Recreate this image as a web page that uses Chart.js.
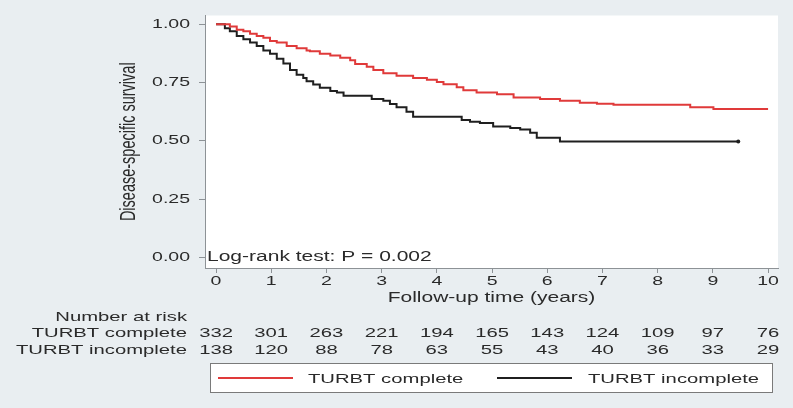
<!DOCTYPE html>
<html>
<head>
<meta charset="utf-8">
<script src="https://cdn.jsdelivr.net/npm/chart.js@4/dist/chart.umd.min.js"></script>
<style>
  html, body { margin: 0; padding: 0; background: #e9eef1; }
  #wrap { width: 793px; height: 408px; }
  canvas { display: block; }
</style>
</head>
<body>
<div id="wrap"><canvas id="c" width="793" height="408"></canvas></div>
<script>
// ---- data ----
const completeTime = [0, 0.25, 0.375, 0.495, 0.616, 0.737, 0.857, 0.978, 1.10, 1.28, 1.46, 1.64, 1.70, 1.88, 2.07, 2.25, 2.43, 2.52, 2.73, 2.85, 3.03, 3.27, 3.57, 3.82, 4.00, 4.12, 4.36, 4.48, 4.72, 5.09, 5.39, 5.87, 6.23, 6.59, 6.90, 7.20, 8.59, 9.01, 10.0];
const completeSurv = [1.000, 0.990, 0.976, 0.970, 0.959, 0.949, 0.942, 0.928, 0.921, 0.907, 0.897, 0.887, 0.884, 0.873, 0.866, 0.856, 0.845, 0.829, 0.817, 0.804, 0.790, 0.779, 0.769, 0.762, 0.752, 0.742, 0.730, 0.717, 0.707, 0.700, 0.686, 0.679, 0.672, 0.663, 0.659, 0.654, 0.644, 0.636, 0.636];

const incompleteTime = [0, 0.16, 0.25, 0.375, 0.495, 0.616, 0.737, 0.857, 0.978, 1.10, 1.22, 1.34, 1.46, 1.58, 1.64, 1.76, 1.88, 2.07, 2.19, 2.31, 2.82, 3.03, 3.15, 3.27, 3.45, 3.57, 4.45, 4.60, 4.78, 5.02, 5.33, 5.51, 5.69, 5.81, 6.23, 9.46];
const incompleteSurv = [1.000, 0.983, 0.970, 0.949, 0.935, 0.921, 0.907, 0.887, 0.873, 0.852, 0.831, 0.804, 0.783, 0.769, 0.755, 0.741, 0.727, 0.714, 0.707, 0.693, 0.679, 0.672, 0.658, 0.644, 0.624, 0.603, 0.589, 0.582, 0.576, 0.561, 0.555, 0.548, 0.534, 0.513, 0.497, 0.497];

const seriesNames = ['TURBT complete', 'TURBT incomplete'];

const xTickValues = [0, 1, 2, 3, 4, 5, 6, 7, 8, 9, 10];
const xTickLabels = ['0', '1', '2', '3', '4', '5', '6', '7', '8', '9', '10'];
const yTickValues = [0, 0.25, 0.5, 0.75, 1];
const yTickLabels = ['0.00', '0.25', '0.50', '0.75', '1.00'];

const riskTimes = [0, 1, 2, 3, 4, 5, 6, 7, 8, 9, 10];
const riskComplete = [332, 301, 263, 221, 194, 165, 143, 124, 109, 97, 76];
const riskIncomplete = [138, 120, 88, 78, 63, 55, 43, 40, 36, 33, 29];

const riskHeader = 'Number at risk';
const xTitle = 'Follow-up time (years)';
const yTitle = 'Disease-specific survival';
const noteText = 'Log-rank test: P = 0.002';

// ---- styling ----
const RED = '#e03a3a';
const BLACK = '#1f1f1f';
const AXIS = '#8d9296';
const TEXT = '#2a2a2a';
const FONT = '"Liberation Sans", Arial, Helvetica, sans-serif';

// The reference picture is stretched horizontally: widen glyphs in device x.
const SX = 1.5;
(function () {
  const P = CanvasRenderingContext2D.prototype;
  const origFill = P.fillText;
  const origMeasure = P.measureText;
  P.fillText = function (t, x, y, maxW) {
    const m = this.getTransform();
    const px = m.a * x + m.c * y + m.e;
    const py = m.b * x + m.d * y + m.f;
    const T = new DOMMatrix().translate(px, py).scale(SX, 1).translate(-px, -py).multiply(m);
    this.save();
    this.setTransform(T);
    if (maxW === undefined) origFill.call(this, t, x, y);
    else origFill.call(this, t, x, y, maxW);
    this.restore();
  };
  P.measureText = function (t) {
    const r = origMeasure.call(this, t);
    const m = this.getTransform();
    const k = (m.b === 0 && m.c === 0) ? SX : 1;
    return {
      width: r.width * k,
      actualBoundingBoxAscent: r.actualBoundingBoxAscent,
      actualBoundingBoxDescent: r.actualBoundingBoxDescent,
      actualBoundingBoxLeft: r.actualBoundingBoxLeft * k,
      actualBoundingBoxRight: r.actualBoundingBoxRight * k
    };
  };
})();

const decor = {
  id: 'decor',
  beforeDraw(chart) {
    const { ctx, chartArea: a } = chart;
    ctx.save();
    ctx.fillStyle = '#e9eef1';
    ctx.fillRect(0, 0, chart.width, chart.height);
    ctx.fillStyle = '#ffffff';
    ctx.fillRect(a.left, a.top, a.right - a.left, a.bottom - a.top);
    ctx.restore();
  },
  afterDraw(chart) {
    const { ctx, chartArea: a } = chart;
    const xs = chart.scales.x;
    ctx.save();
    ctx.fillStyle = TEXT;
    // note inside plot
    ctx.font = '14px ' + FONT;
    ctx.textAlign = 'left';
    ctx.textBaseline = 'alphabetic';
    ctx.fillText(noteText, a.left + 2, 261);

    // number-at-risk table
    ctx.font = '13.5px ' + FONT;
    ctx.textAlign = 'right';
    ctx.fillText(riskHeader, 187, 320.7);
    ctx.fillText(seriesNames[0], 187, 337);
    ctx.fillText(seriesNames[1], 187, 354);
    ctx.textAlign = 'center';
    riskTimes.forEach((t, i) => {
      const px = xs.getPixelForValue(t);
      ctx.fillText(String(riskComplete[i]), px, 337);
      ctx.fillText(String(riskIncomplete[i]), px, 354);
    });

    // legend box
    ctx.fillStyle = '#ffffff';
    ctx.fillRect(210, 363, 562, 29);
    ctx.strokeStyle = '#7a7a7a';
    ctx.lineWidth = 1;
    ctx.strokeRect(210.5, 363.5, 562, 29);
    ctx.lineWidth = 2;
    ctx.strokeStyle = RED;
    ctx.beginPath(); ctx.moveTo(218, 378); ctx.lineTo(293, 378); ctx.stroke();
    ctx.strokeStyle = BLACK;
    ctx.beginPath(); ctx.moveTo(497, 378); ctx.lineTo(572, 378); ctx.stroke();
    ctx.fillStyle = TEXT;
    ctx.textAlign = 'left';
    ctx.font = '13.5px ' + FONT;
    ctx.fillText(seriesNames[0], 308, 382.7);
    ctx.fillText(seriesNames[1], 588, 382.7);
    ctx.restore();
  }
};

const lastIdx = incompleteTime.length - 1;

new Chart(document.getElementById('c'), {
  type: 'line',
  data: {
    datasets: [
      {
        label: seriesNames[0],
        data: completeTime.map((t, i) => ({ x: t, y: completeSurv[i] })),
        borderColor: RED,
        borderWidth: 2,
        stepped: 'before',
        pointRadius: 0,
        fill: false
      },
      {
        label: seriesNames[1],
        data: incompleteTime.map((t, i) => ({ x: t, y: incompleteSurv[i] })),
        borderColor: BLACK,
        backgroundColor: BLACK,
        borderWidth: 2,
        stepped: 'before',
        pointRadius: (c) => (c.dataIndex === lastIdx ? 2 : 0),
        pointBorderWidth: 0,
        pointBackgroundColor: BLACK,
        fill: false
      }
    ]
  },
  options: {
    responsive: false,
    animation: false,
    events: [],
    layout: { padding: { left: 0, right: 15, top: 7, bottom: 101.6 } },
    plugins: { legend: { display: false }, tooltip: { enabled: false } },
    scales: {
      x: {
        type: 'linear',
        min: -0.2,
        max: 10.18,
        afterBuildTicks: (s) => { s.ticks = xTickValues.map(v => ({ value: v })); },
        afterFit: (s) => { s.height = 38.4; },
        ticks: {
          callback: (v, i) => xTickLabels[i],
          color: TEXT,
          font: { family: FONT, size: 13, lineHeight: 1 },
          padding: 2,
          maxRotation: 0,
          autoSkip: false
        },
        grid: { display: true, drawOnChartArea: false, drawTicks: true, tickLength: 5, color: AXIS },
        border: { display: true, color: AXIS, width: 1 },
        title: {
          display: true,
          text: xTitle,
          color: TEXT,
          font: { family: FONT, size: 14 },
          padding: { top: 0, bottom: 0 }
        }
      },
      y: {
        type: 'linear',
        min: -0.0456,
        max: 1.0373,
        afterBuildTicks: (s) => { s.ticks = yTickValues.map(v => ({ value: v })); },
        afterFit: (s) => { s.width = 205; },
        ticks: {
          callback: (v, i) => yTickLabels[i],
          color: TEXT,
          font: { family: FONT, size: 13, lineHeight: 1 },
          padding: 9
        },
        grid: { display: true, drawOnChartArea: false, drawTicks: true, tickLength: 6, color: AXIS },
        border: { display: true, color: AXIS, width: 1 },
        title: {
          display: true,
          text: yTitle,
          color: TEXT,
          font: { family: FONT, size: 14.5 },
          padding: { top: 120.3, bottom: 0 }
        }
      }
    }
  },
  plugins: [decor]
});
</script>
</body>
</html>
